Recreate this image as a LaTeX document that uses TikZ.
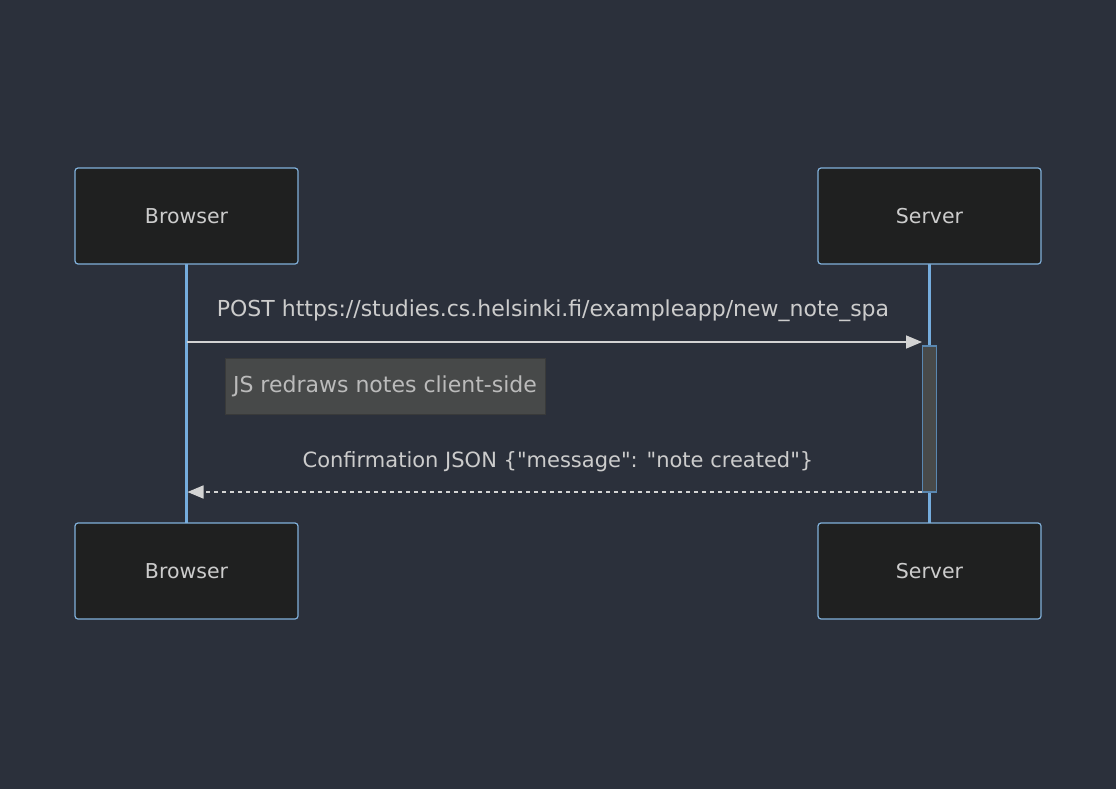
\documentclass[tikz,border=0pt]{standalone}
\usepackage{fontspec}
\setmainfont{DejaVu Sans}[Ligatures=TeXOff]
\usetikzlibrary{arrows.meta}
\definecolor{bg}{HTML}{2B303B}
\definecolor{actfill}{HTML}{1F2020}
\definecolor{actline}{HTML}{81B1DB}
\definecolor{life}{HTML}{75ACDD}
\definecolor{txt}{HTML}{CCCCCC}
\definecolor{msg}{HTML}{D3D3D3}
\definecolor{notefill}{HTML}{474949}
\definecolor{notetxt}{HTML}{BBBBBB}
\definecolor{actvfill}{HTML}{484A4A}
\definecolor{actvline}{HTML}{5A87B0}
\tikzset{
  actor/.style={draw=actline, line width=1.2pt, fill=actfill, rounded corners=3pt,
    minimum width=223pt, minimum height=96pt, inner sep=0pt, text=txt,
    font=\fontsize{20.5}{24}\selectfont},
  lifeline/.style={draw=life, line width=2.2pt},
  msgline/.style={draw=msg, line width=1.6pt, -{Triangle[length=16pt,width=13pt]}},
  msgdash/.style={draw=msg, line width=1.6pt, dash pattern=on 4pt off 4pt, -{Triangle[length=16pt,width=13pt]}},
  lbl/.style={text=txt, font=\fontsize{22}{26}\selectfont, inner sep=0pt},
  notebox/.style={fill=notefill, draw=notefill!80!black, line width=0.8pt, minimum width=320pt, minimum height=56pt,
    inner sep=0pt, text=notetxt, font=\fontsize{22}{26}\selectfont},
  activation/.style={fill=actvfill, draw=actvline, line width=1.2pt}
}
\begin{document}
\begin{tikzpicture}[x=1pt,y=-1pt]
\fill[bg] (0,0) rectangle (1116,789);
\useasboundingbox (0,0) rectangle (1116,789);
% lifelines
\coordinate (bl1) at (186.5,264);
\coordinate (bl2) at (186.5,523);
\coordinate (sl1) at (929.5,264);
\coordinate (sl2) at (929.5,523);
\draw[lifeline] (bl1) -- (bl2);
\draw[lifeline] (sl1) -- (sl2);
% actors
\node[actor] (bt) at (186.5,216) {Browser};
\node[actor] (st) at (929.5,216) {Server};
\node[actor] (bb) at (186.5,571) {Browser};
\node[actor] (sb) at (929.5,571) {Server};
% activation
\node[activation, minimum width=14pt, minimum height=146pt, inner sep=0pt] (act) at (929.5,419) {};
% messages
\coordinate (m1s) at (186.5,342);
\coordinate (m1e) at (922,342);
\draw[msgline] (m1s) -- (m1e);
\node[lbl] (l1) at (553,311) {POST https://studies.cs.helsinki.fi/exampleapp/new\_note\_spa};
\node[notebox] (note) at (385,386) {JS redraws notes client-side};
\coordinate (m2s) at (922,492);
\coordinate (m2e) at (187.5,492);
\draw[msgdash] (m2s) -- (m2e);
\node[lbl, font=\fontsize{21}{25}\selectfont] (l2) at (558,462) {Confirmation JSON \{"message": "note created"\}};
\end{tikzpicture}
\end{document}
